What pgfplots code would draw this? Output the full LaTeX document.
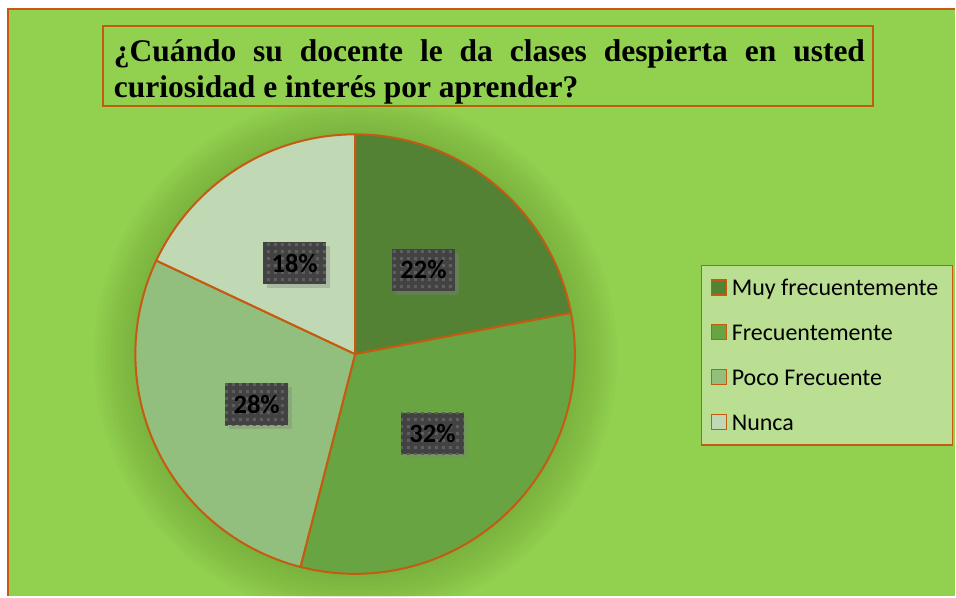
\documentclass[border=0pt]{standalone}
\usepackage{pgfplots}
\pgfplotsset{compat=1.18}
\usepackage{pgfplotstable}
\usepackage{fontspec}
\setmainfont{Liberation Serif}
\newfontfamily\calibri{Carlito}
\usetikzlibrary{patterns.meta,shadows}
\definecolor{bg}{HTML}{92D050}
\definecolor{orangeC}{HTML}{C55A11}
\definecolor{s0}{HTML}{548235}
\definecolor{s1}{HTML}{69A443}
\definecolor{s2}{HTML}{93BF7E}
\definecolor{s3}{HTML}{C0D9B4}
\definecolor{legfill}{HTML}{BADF93}
\definecolor{labgray}{HTML}{424242}
\definecolor{labdot}{HTML}{5E5E5E}
\definecolor{glow}{HTML}{4F7F25}

\tikzdeclarepattern{name=sqdots, type=uncolored,
  bounding box={(0pt,0pt) and (7pt,7pt)}, tile size={(7pt,7pt)},
  code={\fill (2pt,2pt) rectangle (5pt,5pt);}}

\pgfplotstableread{
value lx ly
22 424 270
32 433 434
28 257 404.5
18 295 263.5
}\piedata

\begin{document}
\begin{tikzpicture}
\pgfmathsetmacro\cur{90}
\pgfplotsforeachungrouped \i in {0,...,3}{%
  \pgfplotstablegetelem{\i}{value}\of\piedata
  \let\v\pgfplotsretval
  \pgfmathsetmacro\nxt{\cur-3.6*\v}%
  \expandafter\xdef\csname aS\i\endcsname{\cur}%
  \expandafter\xdef\csname aE\i\endcsname{\nxt}%
  \expandafter\xdef\csname vS\i\endcsname{\v}%
  \pgfplotstablegetelem{\i}{lx}\of\piedata
  \expandafter\xdef\csname lx\i\endcsname{\pgfplotsretval}%
  \pgfplotstablegetelem{\i}{ly}\of\piedata
  \pgfmathsetmacro\tmp{597-\pgfplotsretval}%
  \expandafter\xdef\csname ly\i\endcsname{\tmp}%
  \let\cur\nxt
}
\begin{axis}[
  scale only axis, width=956pt, height=597pt,
  xmin=0, xmax=956, ymin=0, ymax=597,
  hide axis, clip=false,
  legend image code/.code={\draw[#1] (0pt,-7pt) rectangle (15pt,8pt);},
  legend cell align=left,
  legend style={at={(axis cs:701.7,332)}, anchor=north west,
    draw=orangeC, line width=1.5pt, fill=legfill,
    font=\calibri\fontsize{24}{28}\selectfont,
    inner xsep=9pt, inner ysep=12pt, row sep=24pt,
    nodes={text height=18pt, text depth=3pt, inner ysep=0pt, inner xsep=5pt}},
]
\fill[white] (axis cs:0,0) rectangle (axis cs:956,597);
\fill[bg] (axis cs:8,0) rectangle (axis cs:956,588);
\draw[orangeC, line width=2.2pt] (axis cs:8,0) -- (axis cs:8,588) -- (axis cs:956,588);

\draw[orangeC, line width=1.8pt, fill=bg] (axis cs:103,571) rectangle (axis cs:874,491);
\node[text width=752pt, inner sep=0pt, align=justify,
  font=\bfseries\fontsize{31.5}{35.5}\selectfont] at (axis cs:490,525)
  {¿Cuándo su docente le da clases despierta en usted\linebreak curiosidad e interés por aprender?};

\begin{scope}
\clip (axis cs:9,0) rectangle (axis cs:956,490);
\pgfplotsinvokeforeach{262,258,254,250,246,242,238,234,230,226,222}{
  \fill[glow, opacity=0.03] (axis cs:356,240) circle[radius=#1pt];
}
\end{scope}

\pgfplotsinvokeforeach{0,...,3}{
  \filldraw[fill=s#1, draw=orangeC, line width=2pt, line join=round]
    (axis cs:355.5,242.5) -- ++(\csname aS#1\endcsname:220pt)
    arc[start angle=\csname aS#1\endcsname, end angle=\csname aE#1\endcsname, radius=220pt] -- cycle;
}
\pgfplotsinvokeforeach{0,...,3}{
  \node[fill=labgray, postaction={pattern=sqdots, pattern color=labdot},
    drop shadow={shadow xshift=4pt, shadow yshift=-4pt, opacity=0.35},
    minimum width=63pt, minimum height=42pt, inner sep=0pt,
    font=\calibri\bfseries\fontsize{26.5}{30}\selectfont]
    at (axis cs:\csname lx#1\endcsname,\csname ly#1\endcsname) {\csname vS#1\endcsname\%};
}

\addlegendimage{fill=s0, draw=orangeC, line width=1.2pt}
\addlegendentry{Muy frecuentemente}
\addlegendimage{fill=s1, draw=orangeC, line width=1.2pt}
\addlegendentry{Frecuentemente}
\addlegendimage{fill=s2, draw=orangeC, line width=1.2pt}
\addlegendentry{Poco Frecuente}
\addlegendimage{fill=s3, draw=orangeC, line width=1.2pt}
\addlegendentry{Nunca}
\end{axis}
\end{tikzpicture}
\end{document}
